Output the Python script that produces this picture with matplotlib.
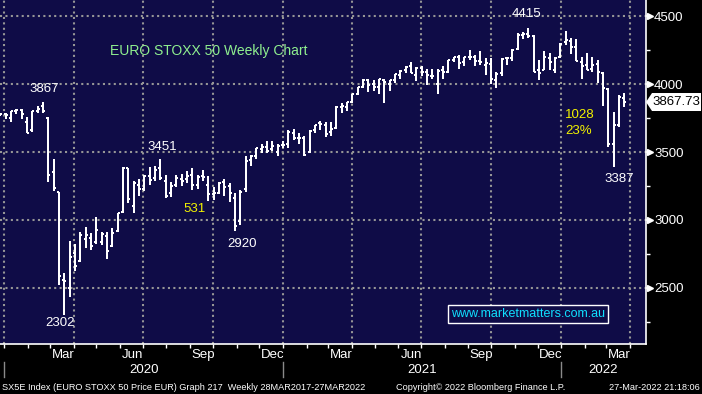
import matplotlib
matplotlib.use('Agg')
import matplotlib.pyplot as plt
import matplotlib.dates as mdates
import matplotlib.transforms as mtransforms
from matplotlib.patches import Polygon
from matplotlib.lines import Line2D
from matplotlib.ticker import MultipleLocator
import pandas as pd

plt.rcParams['font.family'] = ['Liberation Sans', 'DejaVu Sans']

# weekly bars, week ending friday
weeks = pd.date_range('2019-12-20', '2022-03-25', freq='W-FRI')

opens = [3730, 3776,
         3782, 3750, 3798, 3808, 3720, 3660, 3798, 3840, 3750, 3350, 3206, 2560, 2500,
         2760, 2698, 2860, 2870, 2840, 2840, 2880, 2810, 2920, 3060, 3380, 3100, 3260,
         3230, 3320, 3310, 3380, 3290, 3200, 3260, 3300, 3300, 3330, 3260, 3320, 3260,
         3190, 3200, 3280, 3250, 3160, 2990, 3230, 3440, 3470, 3520, 3540, 3520, 3500,
         3550, 3560, 3640, 3600, 3600, 3500, 3660, 3710, 3700, 3650, 3680, 3830, 3830,
         3870, 3930, 3980, 4030, 4000, 3980, 4030, 4000, 4030, 4070, 4100, 4130, 4070,
         4120, 4090, 4060, 4000, 4100, 4090, 4180, 4200, 4160, 4200, 4200, 4170, 4140,
         4150, 4030, 4080, 4190, 4190, 4260, 4360, 4370, 4350, 4100, 4100, 4190, 4100,
         4200, 4310, 4320, 4270, 4160, 4140, 4110, 4150, 4080, 3960, 3560, 3700, 3900]
highs = [3787, 3788,
         3790, 3804, 3814, 3813, 3760, 3800, 3835, 3867, 3757, 3449, 3206, 2610, 2846,
         2824, 2914, 2951, 2904, 3022, 2914, 2914, 2941, 3054, 3390, 3385, 3290, 3300,
         3330, 3390, 3400, 3449, 3330, 3280, 3330, 3340, 3360, 3380, 3330, 3370, 3320,
         3240, 3280, 3300, 3274, 3198, 3220, 3470, 3480, 3530, 3560, 3580, 3580, 3560,
         3580, 3660, 3670, 3640, 3620, 3660, 3700, 3725, 3720, 3720, 3840, 3860, 3870,
         3930, 3980, 4035, 4035, 4030, 4040, 4040, 4030, 4075, 4100, 4130, 4160, 4125,
         4130, 4110, 4110, 4110, 4130, 4180, 4200, 4210, 4200, 4250, 4210, 4240, 4190,
         4190, 4090, 4190, 4200, 4260, 4375, 4380, 4415, 4360, 4176, 4240, 4230, 4200,
         4300, 4392, 4340, 4330, 4200, 4230, 4200, 4176, 4090, 3971, 3794, 3919, 3934]
lows = [3726, 3765,
        3745, 3720, 3780, 3745, 3640, 3650, 3790, 3790, 3280, 3213, 2520, 2302, 2434,
        2627, 2690, 2794, 2780, 2820, 2816, 2713, 2804, 2914, 3054, 3125, 3054, 3180,
        3210, 3260, 3290, 3294, 3160, 3170, 3240, 3250, 3270, 3220, 3230, 3290, 3140,
        3150, 3190, 3180, 3135, 2921, 2963, 3206, 3400, 3450, 3490, 3490, 3510, 3470,
        3530, 3530, 3590, 3560, 3470, 3490, 3640, 3660, 3610, 3620, 3670, 3790, 3800,
        3860, 3920, 3970, 3940, 3950, 3930, 3860, 3950, 4010, 4040, 4080, 4080, 4020,
        4060, 3990, 4040, 3930, 4040, 4080, 4160, 4110, 4130, 4180, 4130, 4140, 4070,
        4000, 3970, 4060, 4140, 4170, 4250, 4330, 4338, 4088, 4030, 4100, 4100, 4080,
        4190, 4290, 4220, 4170, 4040, 4100, 4090, 4007, 3840, 3537, 3387, 3684, 3830]
closes = [3776, 3782,
          3773, 3798, 3808, 3779, 3640, 3798, 3820, 3800, 3329, 3232, 2586, 2549, 2728,
          2662, 2890, 2890, 2808, 2928, 2900, 2774, 2905, 3050, 3384, 3154, 3270, 3229,
          3320, 3296, 3366, 3306, 3174, 3253, 3310, 3285, 3322, 3260, 3316, 3315, 3193,
          3195, 3273, 3245, 3202, 2958, 3205, 3433, 3467, 3527, 3537, 3506, 3546, 3544,
          3553, 3645, 3600, 3602, 3481, 3656, 3698, 3704, 3636, 3668, 3833, 3837, 3867,
          3926, 3978, 4032, 3995, 3975, 4034, 4017, 4026, 4071, 4095, 4126, 4083, 4121,
          4085, 4063, 4059, 4094, 4089, 4175, 4199, 4157, 4196, 4202, 4169, 4159, 4158,
          4036, 4073, 4182, 4189, 4250, 4363, 4370, 4356, 4089, 4080, 4199, 4161, 4194,
          4298, 4325, 4272, 4173, 4136, 4102, 4143, 4085, 3971, 3556, 3697, 3906, 3868]

last_price = 3867.73
y_ticks = [2500, 3000, 3500, 4000, 4500]
years = [2020, 2021, 2022]

NAVY = '#0f0c47'
GRID = '#969696'

fig = plt.figure(figsize=(7.02, 3.94), dpi=100, facecolor='black')
ax = fig.add_axes([0, 1 - 344 / 394, 645.7 / 702, 344 / 394])
ax.set_facecolor(NAVY)

x = mdates.date2num(weeks)
tw = 2.6  # open/close tick length in days
bar = dict(color='white', lw=1.4, zorder=3, antialiased=False)
ax.vlines(x, lows, highs, **bar)
ax.hlines(opens, x - tw, x, **bar)
ax.hlines(closes, x, x + tw, **bar)

jan20 = mdates.date2num(pd.Timestamp('2020-01-01'))
ax.set_xlim(jan20 - 5.5, jan20 + 841.9)
ax.set_ylim(2088, 4618)

# dotted grid
for yv in y_ticks:
    ax.axhline(yv, color=GRID, lw=1.5, ls=(0, (1, 1.6)), zorder=1)
for q in pd.date_range('2020-01-01', '2022-04-01', freq='QS'):
    ax.axvline(mdates.date2num(q), color=GRID, lw=1.5, ls=(0, (1, 1.6)), zorder=1)

for s in ['top', 'left']:
    ax.spines[s].set_visible(False)
for s in ['bottom', 'right']:
    ax.spines[s].set_color('white')
    ax.spines[s].set_linewidth(1.2)

# right price axis
ax.yaxis.tick_right()
ax.set_yticks(y_ticks)
ax.yaxis.set_minor_locator(MultipleLocator(250))
ax.tick_params(axis='y', which='major', colors='white', length=4, width=1.2,
               pad=2, labelsize=9.5)
ax.tick_params(axis='y', which='minor', colors='white', length=3, width=1)
ytr = mtransforms.blended_transform_factory(ax.transAxes, ax.transData)
ax.plot([1.006] * len(y_ticks), y_ticks, '>', color='white', ms=4,
        transform=ytr, clip_on=False, zorder=5)

# time axis
ax.xaxis.set_major_locator(mdates.MonthLocator(bymonth=[3, 6, 9, 12], bymonthday=18))
ax.xaxis.set_major_formatter(mdates.DateFormatter('%b'))
ax.xaxis.set_minor_locator(mdates.MonthLocator(bymonthday=1))
ax.tick_params(axis='x', which='major', colors='white', length=0, pad=3.5, labelsize=9.5)
ax.tick_params(axis='x', which='minor', colors='white', length=3, width=1)

xtr = mtransforms.blended_transform_factory(ax.transData, ax.transAxes)
xmax = ax.get_xlim()[1]
for yr in years:
    start = mdates.date2num(pd.Timestamp(f'{yr}-01-01'))
    end = min(mdates.date2num(pd.Timestamp(f'{yr + 1}-01-01')), xmax)
    ax.text((start + end) / 2, -0.077, str(yr), transform=xtr, color='white',
            fontsize=9.5, ha='center', va='center', clip_on=False)
    ax.add_line(Line2D([start, start], [-0.052, -0.097], transform=xtr,
                       color='#8a8a8a', lw=1, clip_on=False))

# annotations
def d(s):
    return mdates.date2num(pd.Timestamp(s))

lbl = dict(color='white', fontsize=9.5, ha='center', va='center', zorder=6)
ax.text(d('2020-02-22'), 3963, '3867', **lbl)
ax.text(d('2020-07-26'), 3537, '3451', **lbl)
ax.text(d('2020-03-14'), 2243, '2302', **lbl)
ax.text(d('2020-11-08'), 2825, '2920', **lbl)
ax.text(d('2021-11-16'), 4515, '4415', **lbl)
ax.text(d('2022-03-18'), 3301, '3387', **lbl)
yel = dict(color='#f2f200', fontsize=9.5, va='center', zorder=6)
ax.text(d('2020-09-07'), 3081, '531', ha='center', **yel)
ax.text(d('2022-01-06'), 3772, '1028', ha='left', **yel)
ax.text(d('2022-01-06'), 3654, '23%', ha='left', **yel)

fig.text(110 / 702, 1 - 51 / 394, 'EURO STOXX 50 Weekly Chart', color='#8ff08f',
         fontsize=10, ha='left', va='center')

fig.text(528 / 702, 1 - 314 / 394, 'www.marketmatters.com.au', color='#10e0ff',
         fontsize=9, ha='center', va='center',
         bbox=dict(boxstyle='square,pad=0.22', fc=NAVY, ec='white', lw=1))

# last price tag
ident = mtransforms.IdentityTransform()
yp = ax.transData.transform((0, last_price))[1]
tag = Polygon([(646, yp), (652, yp + 9), (701, yp + 9), (701, yp - 9), (652, yp - 9)],
              closed=True, fc='white', ec='none', transform=ident)
fig.add_artist(tag)
fig.text(676, yp, f'{last_price:.2f}', transform=ident, color='black',
         fontsize=9.5, ha='center', va='center')

# footer
foot = dict(color='white', fontsize=6.6, va='center')
fig.text(2 / 702, 1 - 387 / 394,
         'SX5E Index (EURO STOXX 50 Price EUR) Graph 217  Weekly 28MAR2017-27MAR2022',
         ha='left', **foot)
fig.text(396 / 702, 1 - 387 / 394, 'Copyright\u00a9 2022 Bloomberg Finance L.P.',
         ha='left', **foot)
fig.text(700 / 702, 1 - 387 / 394, '27-Mar-2022 21:18:06', ha='right', **foot)

fig.savefig('out.png', dpi=100, facecolor='black')
